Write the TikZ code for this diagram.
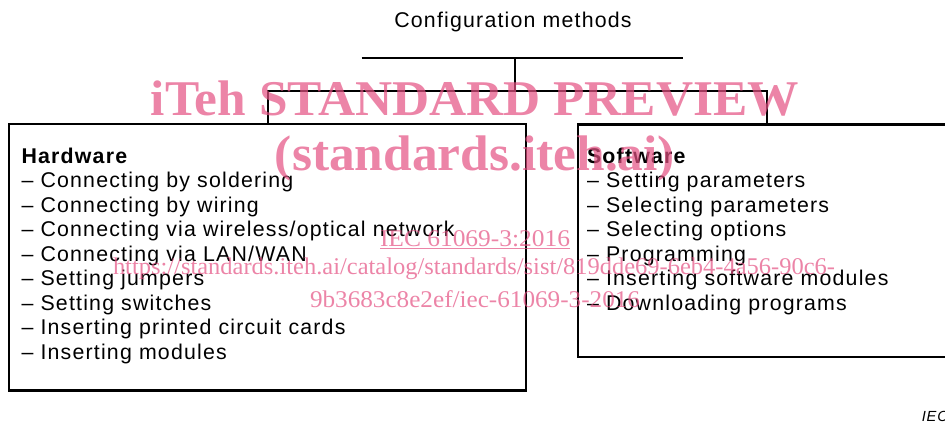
\documentclass[tikz,border=0pt]{standalone}
\usepackage{fontspec}
\setmainfont{Liberation Sans}[LetterSpace=5.6]
\newfontfamily\wmfont{Liberation Serif}
\usepackage{graphicx}
\definecolor{wmpink}{RGB}{228,80,130}

\begin{document}
\begin{tikzpicture}[x=0.75pt,y=-0.75pt,
        linie/.style={line width=1.5pt},
        kasten/.style={draw, line width=1.8pt, inner sep=0pt},
        liste/.style={anchor=north west, inner sep=0pt, align=left,
            font=\fontsize{16}{18.4}\selectfont},
        wasser/.style={text=wmpink, text opacity=0.7, inner sep=0pt, anchor=base}]
    \useasboundingbox (0,0) rectangle (945,421);
    % Titel:
    \node[anchor=base, inner sep=0pt, font=\fontsize{16}{18.4}\selectfont]
        (titel) at (513,27) {Configuration methods};
    % Kaesten:
    \node[kasten, minimum width=387.75pt, minimum height=199.9pt]
        (hw) at (267.5,257.3) {};
    \node[kasten, minimum width=283.5pt, minimum height=174.3pt]
        (sw) at (767,240.5) {};
    % Baum:
    \coordinate (barl) at (361.5,57.5);
    \coordinate (barr) at (683,57.5);
    \coordinate (top) at (515,57.5);
    \coordinate (bus) at (515,91);
    \draw[linie] (barl) -- (barr);
    \draw[linie] (top) -- (bus);
    \draw[linie] (hw.north) |- (bus) -| (sw.north);
    % Listen:
    \node[liste] (hwtext) at ([shift={(13.5,24.5)}]hw.north west) {%
        \textbf{Hardware}\\
        -- Connecting by soldering\\
        -- Connecting by wiring\\
        -- Connecting via wireless/optical network\\
        -- Connecting via LAN/WAN\\
        -- Setting jumpers\\
        -- Setting switches\\
        -- Inserting printed circuit cards\\
        -- Inserting modules};
    \node[liste] (swtext) at ([shift={(10,24.5)}]sw.north west) {%
        \textbf{Software}\\
        -- Setting parameters\\
        -- Selecting parameters\\
        -- Selecting options\\
        -- Programming\\
        -- Inserting software modules\\
        -- Downloading programs};
    \node[anchor=base west, inner sep=0pt, font=\fontsize{11}{12}\selectfont\itshape]
        (iec) at (921.5,421) {IEC};
    % Wasserzeichen:
    \node[wasser, font=\wmfont\bfseries\fontsize{37.5}{40}\selectfont]
        (wm1) at (475,115) {\resizebox{486pt}{\height}{iTeh STANDARD PREVIEW}};
    \node[wasser, font=\wmfont\bfseries\fontsize{37.5}{40}\selectfont]
        (wm2) at (475,170) {\resizebox{300pt}{\height}{(standards.iteh.ai)}};
    \node[wasser, font=\wmfont\fontsize{18}{20}\selectfont]
        (wm3) at (475,246) {\resizebox{142.5pt}{\height}{\underline{IEC 61069-3:2016}}};
    \node[wasser, font=\wmfont\fontsize{18}{20}\selectfont]
        (wm4) at (474,274) {\resizebox{541.5pt}{\height}{https://standards.iteh.ai/catalog/standards/sist/819dde69-6eb4-4a56-90c6-}};
    \node[wasser, font=\wmfont\fontsize{18}{20}\selectfont]
        (wm5) at (475,307) {\resizebox{247.5pt}{\height}{9b3683c8e2ef/iec-61069-3-2016}};
\end{tikzpicture}
\end{document}
